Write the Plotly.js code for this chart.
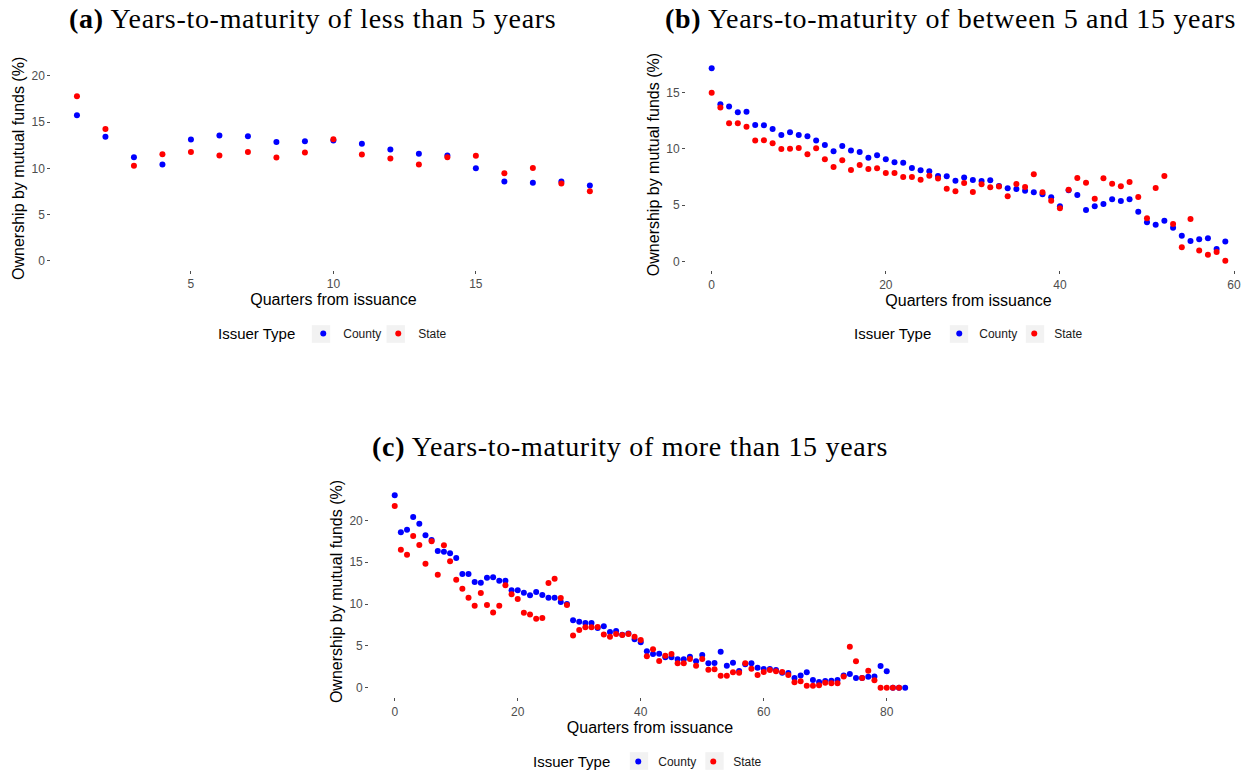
<!DOCTYPE html>
<html>
<head>
<meta charset="utf-8">
<script src="https://cdn.plot.ly/plotly-3.0.1.min.js"></script>
<style>
  html, body { margin: 0; padding: 0; background: #ffffff; overflow: hidden; }
  #chart { width: 1256px; height: 780px; }
  /* slightly open tracking for the serif panel headings */
  text.annotation-text { letter-spacing: 0.7px; }
</style>
</head>
<body>
<div id="chart"></div>
<script>
// Mutual fund ownership of municipal bonds by quarters since issuance,
// split by issuer type and by remaining years-to-maturity bucket.

// (a) less than 5 years to maturity
const quartersShort = [1, 2, 3, 4, 5, 6, 7, 8, 9, 10, 11, 12, 13, 14, 15, 16, 17, 18, 19];
const countyShort = [15.75, 13.41, 11.21, 10.41, 13.12, 13.55, 13.48, 12.86, 12.94, 13.01,
  12.65, 12.04, 11.57, 11.39, 10.02, 8.58, 8.43, 8.58, 8.14];
const stateShort = [17.80, 14.27, 10.27, 11.53, 11.78, 11.39, 11.78, 11.17, 11.71, 13.15,
  11.50, 11.06, 10.41, 11.21, 11.35, 9.48, 10.05, 8.36, 7.53];

// (b) between 5 and 15 years to maturity
const quartersMid = [0, 1, 2, 3, 4, 5, 6, 7, 8, 9, 10, 11, 12, 13, 14, 15, 16, 17, 18, 19,
  20, 21, 22, 23, 24, 25, 26, 27, 28, 29, 30, 31, 32, 33, 34, 35, 36, 37, 38, 39,
  40, 41, 42, 43, 44, 45, 46, 47, 48, 49, 50, 51, 52, 53, 54, 55, 56, 57, 58, 59];
const countyMid = [17.16, 13.96, 13.75, 13.24, 13.30, 12.12, 12.09, 11.76, 11.23, 11.47,
  11.23, 11.11, 10.73, 10.34, 9.78, 10.25, 9.84, 9.72, 9.21, 9.42,
  9.07, 8.80, 8.77, 8.30, 8.09, 8.00, 7.59, 7.56, 7.17, 7.44,
  7.23, 7.14, 7.20, 6.70, 6.49, 6.43, 6.28, 6.13, 5.96, 5.69,
  4.89, 6.31, 5.90, 4.56, 4.89, 5.10, 5.51, 5.36, 5.51, 4.41,
  3.47, 3.26, 3.61, 2.99, 2.28, 1.81, 1.96, 2.04, 1.10, 1.75];
const stateMid = [14.99, 13.66, 12.27, 12.27, 11.97, 10.73, 10.76, 10.49, 9.99, 10.01,
  10.07, 9.51, 10.04, 9.07, 8.39, 8.98, 8.12, 8.56, 8.21, 8.27,
  7.85, 7.85, 7.50, 7.50, 7.26, 7.61, 7.35, 6.46, 6.22, 6.96,
  6.16, 6.84, 6.58, 6.64, 5.78, 6.87, 6.61, 7.73, 6.13, 5.39,
  4.71, 6.37, 7.41, 6.99, 5.57, 7.38, 6.90, 6.67, 7.05, 5.72,
  3.82, 6.52, 7.59, 3.32, 1.24, 3.76, 0.95, 0.59, 0.83, 0.06];

// (c) more than 15 years to maturity
const quartersLongCounty = [0, 1, 2, 3, 4, 5, 6, 7, 8, 9, 10, 11, 12, 13, 14, 15, 16, 17, 18, 19,
  20, 21, 22, 23, 24, 25, 26, 27, 28, 29, 30, 31, 32, 33, 34, 35, 36, 37, 38, 39,
  40, 41, 42, 43, 44, 45, 46, 47, 48, 49, 50, 51, 52, 53, 54, 55, 56, 57, 58, 59,
  60, 61, 62, 63, 64, 65, 66, 67, 68, 69, 70, 71, 72, 73, 74, 75, 76, 77, 78, 79,
  80, 81, 82, 83];
const countyLong = [22.99, 18.57, 18.88, 20.40, 19.60, 18.21, 17.65, 16.33, 16.25, 16.06,
  15.50, 13.59, 13.59, 12.63, 12.55, 13.15, 13.19, 12.79, 12.79, 11.63,
  11.63, 11.35, 11.04, 11.43, 11.08, 10.76, 10.76, 10.24, 10.00, 8.05,
  7.89, 7.73, 7.73, 7.13, 7.33, 6.65, 6.77, 6.33, 6.49, 5.78,
  5.42, 4.34, 4.02, 4.06, 3.63, 3.63, 3.39, 3.39, 3.71, 3.15,
  3.90, 2.91, 2.95, 4.30, 2.63, 2.99, 1.99, 2.80, 2.91, 2.39,
  2.23, 2.23, 2.11, 1.79, 1.75, 1.16, 1.47, 1.83, 0.92, 0.68,
  0.80, 0.84, 0.92, 1.47, 1.63, 1.16, 1.16, 1.31, 1.35, 2.59,
  1.95, 0.00, 0.00, 0.00];
const quartersLongState = [0, 1, 2, 3, 4, 5, 6, 7, 8, 9, 10, 11, 12, 13, 14, 15, 16, 17, 18, 19,
  20, 21, 22, 23, 24, 25, 26, 27, 28, 29, 30, 31, 32, 33, 34, 35, 36, 37, 38, 39,
  40, 41, 42, 43, 44, 45, 46, 47, 48, 49, 50, 51, 52, 53, 54, 55, 56, 57, 58, 59,
  60, 61, 62, 63, 64, 65, 66, 67, 68, 69, 70, 71, 72, 73, 74, 75, 76, 77, 78, 79,
  80, 81, 82];
const stateLong = [21.71, 16.49, 15.90, 18.13, 17.05, 14.82, 17.49, 13.51, 17.01, 15.10,
  12.91, 11.83, 10.76, 9.80, 11.31, 9.88, 9.00, 9.80, 12.23, 11.16,
  10.60, 8.96, 8.76, 8.25, 8.33, 12.51, 13.03, 10.72, 9.88, 6.25,
  6.89, 7.21, 7.21, 7.25, 6.37, 6.10, 6.41, 6.29, 6.41, 6.10,
  5.70, 3.75, 4.58, 3.19, 3.82, 4.02, 2.91, 2.91, 3.43, 2.63,
  3.43, 2.15, 2.19, 1.43, 1.43, 1.83, 1.79, 2.91, 2.27, 1.51,
  1.87, 2.11, 1.95, 1.87, 1.51, 0.64, 0.76, 0.24, 0.24, 0.28,
  0.60, 0.52, 0.52, 1.35, 4.90, 3.15, 1.16, 2.03, 0.88, 0.00,
  0.00, 0.00, 0.00];

const issuerNames = ['County', 'State'];
const issuerColors = ['#0000ff', '#ff0000'];

const panelTitles = [
  '<b>(a)</b> Years-to-maturity of less than 5 years',
  '<b>(b)</b> Years-to-maturity of between 5 and 15 years',
  '<b>(c)</b> Years-to-maturity of more than 15 years'
];
const xAxisTitle = 'Quarters from issuance';
const yAxisTitle = 'Ownership by mutual funds (%)';
const legendTitle = 'Issuer Type';

// ---- page geometry (pixels, measured from the top-left corner) ----
const W = 1256, H = 780;
const fx = px => px / W;
const fy = py => 1 - py / H;

const sans = 'Liberation Sans, Arial, sans-serif';
const serif = 'Liberation Serif, Times New Roman, serif';

const panels = [
  { sfx: '',  c: countyShort, s: stateShort, xc: quartersShort, xs: quartersShort,
    dom: [51.3, 615.5], vdom: [66.7, 270], xr: [0.1, 19.9], yr: [-1, 21], xd: 5, yd: 5,
    legend: 'legend', lx: 216, ly: 334, title: [312, 18], keys: [321, 395.7], keyY: 334 },
  { sfx: '2', c: countyMid, s: stateMid, xc: quartersMid, xs: quartersMid,
    dom: [686, 1251], vdom: [58.8, 270.3], xr: [-2.95, 61.95], yr: [-0.8, 18.0], xd: 20, yd: 5,
    legend: 'legend2', lx: 852, ly: 334, title: [950, 18], keys: [959, 1035], keyY: 334 },
  { sfx: '3', c: countyLong, s: stateLong, xc: quartersLongCounty, xs: quartersLongState,
    dom: [369.2, 930.7], vdom: [485.7, 697.3], xr: [-4.15, 87.15], yr: [-1.15, 24.14], xd: 20, yd: 5,
    legend: 'legend3', lx: 531, ly: 762, title: [630, 447], keys: [639, 714.5], keyY: 761 }
];

const traces = [];
const layout = {
  width: W, height: H,
  margin: { l: 0, r: 0, t: 0, b: 0 },
  paper_bgcolor: '#ffffff', plot_bgcolor: '#ffffff',
  font: { family: sans, color: '#000000' },
  showlegend: true,
  annotations: [],
  shapes: []
};

panels.forEach((p, i) => {
  const xa = 'x' + p.sfx, ya = 'y' + p.sfx;
  const ys = [p.c, p.s];
  const xs = [p.xc, p.xs];
  issuerNames.forEach((name, k) => {
    traces.push({
      type: 'scatter', mode: 'markers',
      x: xs[k], y: ys[k],
      xaxis: xa, yaxis: ya,
      name: name,
      legend: p.legend,
      marker: { color: issuerColors[k], size: 6 },
      hoverinfo: 'x+y+name'
    });
  });

  const axisCommon = {
    showgrid: false, zeroline: false, showline: false,
    ticks: 'outside', ticklen: 3, tickwidth: 1, tickcolor: '#4d4d4d',
    tickfont: { family: sans, size: 12, color: '#4d4d4d' },
    fixedrange: true
  };
  layout['xaxis' + p.sfx] = Object.assign({}, axisCommon, {
    domain: [fx(p.dom[0]), fx(p.dom[1])],
    anchor: ya, range: p.xr, dtick: p.xd, tick0: 0,
    title: { text: xAxisTitle, font: { family: sans, size: 16, color: '#000000' }, standoff: 3 }
  });
  layout['yaxis' + p.sfx] = Object.assign({}, axisCommon, {
    domain: [fy(p.vdom[1]), fy(p.vdom[0])],
    anchor: xa, range: p.yr, dtick: p.yd, tick0: 0,
    title: { text: yAxisTitle, font: { family: sans, size: 16, color: '#000000' }, standoff: 2 }
  });

  layout[p.legend] = {
    orientation: 'h',
    x: fx(p.lx), xanchor: 'left',
    y: fy(p.ly), yanchor: 'middle',
    bgcolor: 'rgba(0,0,0,0)',
    entrywidth: 30, entrywidthmode: 'pixels',
    font: { family: sans, size: 12, color: '#1a1a1a' },
    title: { text: legendTitle, side: 'left', font: { family: sans, size: 15, color: '#000000' } },
    itemclick: false, itemdoubleclick: false
  };

  // grey key backgrounds centred on the legend symbols
  p.keys.forEach(kx => {
    layout.shapes.push({
      type: 'rect', xref: 'paper', yref: 'paper', layer: 'below',
      x0: fx(kx - 9.2), x1: fx(kx + 9.2), y0: fy(p.keyY + 8.8), y1: fy(p.keyY - 8.8),
      fillcolor: '#f2f2f2', line: { width: 0 }
    });
  });

  layout.annotations.push({
    text: panelTitles[i], showarrow: false,
    xref: 'paper', yref: 'paper',
    x: fx(p.title[0]), y: fy(p.title[1]), xanchor: 'center', yanchor: 'middle',
    font: { family: serif, size: 28, color: '#000000' }
  });
});

Plotly.newPlot('chart', traces, layout, { displayModeBar: false, staticPlot: false });
</script>
</body>
</html>
